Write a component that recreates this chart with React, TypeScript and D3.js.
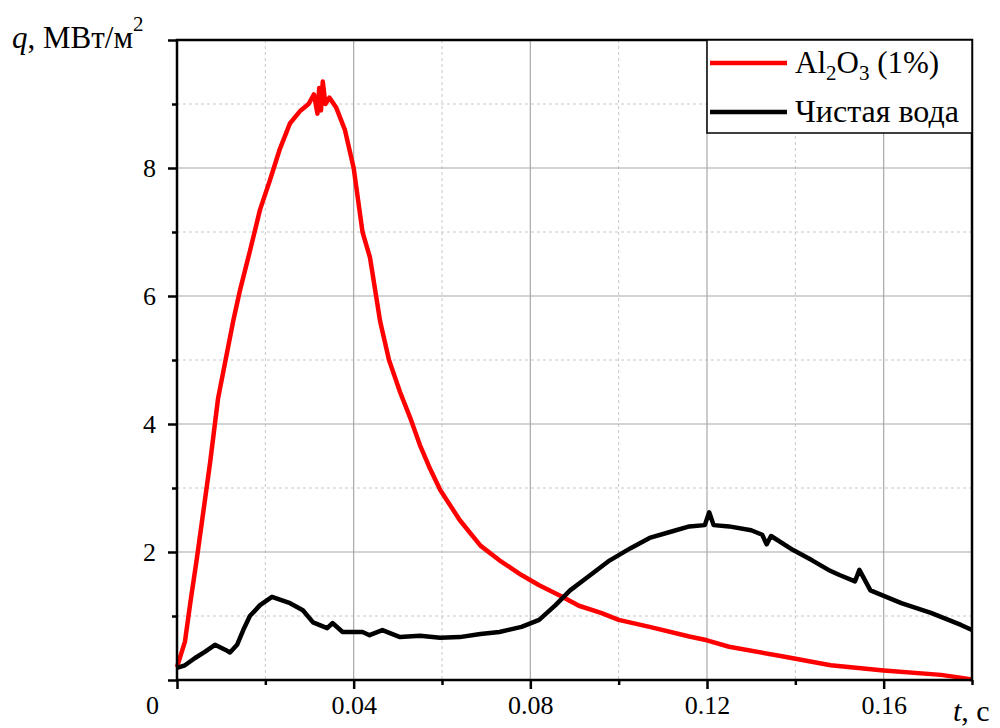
import React, { useEffect, useRef } from "react";
import * as d3 from "d3";

// Al2O3 (1%) series: time, s and heat flux, MW/m2
const aluminaT = [0, 0.0018, 0.003, 0.0045, 0.006, 0.0075, 0.0093, 0.011, 0.0127, 0.0143, 0.0165, 0.0188, 0.021, 0.0233, 0.0256, 0.028, 0.0298, 0.031, 0.0318, 0.0322, 0.0326, 0.033, 0.0336, 0.0345, 0.036, 0.038, 0.04, 0.042, 0.0437, 0.046, 0.048, 0.0505, 0.053, 0.055, 0.0573, 0.0596, 0.064, 0.0687, 0.073, 0.078, 0.082, 0.087, 0.091, 0.096, 0.1, 0.107, 0.116, 0.12, 0.125, 0.137, 0.148, 0.16, 0.173, 0.18];
const aluminaQ = [0.2, 0.6, 1.2, 1.9, 2.65, 3.4, 4.4, 5.0, 5.6, 6.1, 6.7, 7.35, 7.8, 8.3, 8.7, 8.9, 9.0, 9.15, 8.85, 9.25, 8.9, 9.35, 9.0, 9.1, 8.95, 8.6, 8.0, 7.0, 6.6, 5.6, 5.0, 4.5, 4.06, 3.67, 3.3, 2.97, 2.5, 2.1, 1.87, 1.64, 1.48, 1.31, 1.16, 1.05, 0.94, 0.83, 0.68, 0.62, 0.52, 0.37, 0.23, 0.15, 0.08, 0.01];

// pure water series
const waterT = [0, 0.0018, 0.004, 0.0063, 0.0086, 0.011, 0.012, 0.0136, 0.015, 0.0165, 0.0188, 0.0215, 0.0256, 0.0285, 0.0308, 0.034, 0.0352, 0.0375, 0.042, 0.0436, 0.0465, 0.0505, 0.055, 0.0596, 0.064, 0.0687, 0.073, 0.078, 0.082, 0.0857, 0.089, 0.0936, 0.098, 0.1027, 0.107, 0.112, 0.116, 0.1195, 0.1205, 0.1215, 0.125, 0.13, 0.1325, 0.1335, 0.1345, 0.1395, 0.1438, 0.1475, 0.150, 0.1535, 0.1545, 0.157, 0.164, 0.1707, 0.1775, 0.18];
const waterQ = [0.19, 0.23, 0.34, 0.44, 0.55, 0.47, 0.43, 0.55, 0.78, 1.0, 1.17, 1.3, 1.2, 1.09, 0.9, 0.81, 0.89, 0.75, 0.75, 0.7, 0.78, 0.67, 0.69, 0.66, 0.67, 0.72, 0.75, 0.83, 0.94, 1.17, 1.4, 1.64, 1.87, 2.06, 2.22, 2.32, 2.4, 2.42, 2.62, 2.42, 2.4, 2.34, 2.27, 2.12, 2.25, 2.03, 1.87, 1.72, 1.64, 1.54, 1.72, 1.4, 1.2, 1.05, 0.86, 0.78];

const xMajor = [0, 0.04, 0.08, 0.12, 0.16];
const xMinor = [0.02, 0.06, 0.1, 0.14, 0.18];
const yMajor = [0, 2, 4, 6, 8, 10];
const yMinor = [1, 3, 5, 7, 9];
const yLabels = [2, 4, 6, 8];

const serif = '"Liberation Serif", "Times New Roman", "DejaVu Serif", serif';

function App() {
  const ref = useRef<SVGSVGElement | null>(null);

  useEffect(() => {
    const svg = d3.select(ref.current);
    svg.selectAll("*").remove();

    const margin = { top: 40, right: 28, bottom: 48, left: 177 };
    const width = 1000;
    const height = 728;

    const x = d3.scaleLinear().domain([0, 0.18]).range([margin.left, width - margin.right]);
    const y = d3.scaleLinear().domain([0, 10]).range([height - margin.bottom, margin.top]);

    const x0 = x.range()[0], x1 = x.range()[1];
    const y0 = y.range()[0], y1 = y.range()[1];

    // grid
    const grid = svg.append("g");
    grid.selectAll(".vmin").data(xMinor).join("line")
      .attr("x1", (d) => x(d)).attr("x2", (d) => x(d))
      .attr("y1", y1).attr("y2", y0)
      .attr("stroke", "#c8c8c8").attr("stroke-dasharray", "3,3");
    grid.selectAll(".hmin").data(yMinor).join("line")
      .attr("x1", x0).attr("x2", x1)
      .attr("y1", (d) => y(d)).attr("y2", (d) => y(d))
      .attr("stroke", "#c8c8c8").attr("stroke-dasharray", "3,3");
    grid.selectAll(".vmaj").data(xMajor.slice(1)).join("line")
      .attr("x1", (d) => x(d)).attr("x2", (d) => x(d))
      .attr("y1", y1).attr("y2", y0)
      .attr("stroke", "#a8a8a8").attr("stroke-width", 1.2);
    grid.selectAll(".hmaj").data(yMajor.slice(1, -1)).join("line")
      .attr("x1", x0).attr("x2", x1)
      .attr("y1", (d) => y(d)).attr("y2", (d) => y(d))
      .attr("stroke", "#a8a8a8").attr("stroke-width", 1.2);

    // series
    const drawSeries = (ts: number[], qs: number[], color: string) => {
      const pts = ts.map((t, i) => [x(t), y(qs[i])] as [number, number]);
      svg.append("path")
        .attr("d", d3.line()(pts))
        .attr("fill", "none")
        .attr("stroke", color)
        .attr("stroke-width", 4.5)
        .attr("stroke-linejoin", "round");
    };
    drawSeries(aluminaT, aluminaQ, "#ff0000");
    drawSeries(waterT, waterQ, "#000000");

    // frame
    svg.append("rect")
      .attr("x", x0).attr("y", y1)
      .attr("width", x1 - x0).attr("height", y0 - y1)
      .attr("fill", "none").attr("stroke", "#000").attr("stroke-width", 2.5);

    // x axis
    const xAxis = svg.append("g").attr("transform", `translate(0,${y0})`);
    xAxis.call(
      d3.axisBottom(x).tickValues(xMajor).tickSize(9).tickFormat((d) => (+d === 0 ? "0" : d3.format(".2f")(+d)))
    );
    xAxis.append("g").call(d3.axisBottom(x).tickValues(xMinor).tickSize(5).tickFormat(() => ""));
    xAxis.selectAll(".domain").remove();
    xAxis.selectAll("line").attr("stroke", "#000").attr("stroke-width", 2.5);
    xAxis.selectAll("text")
      .style("font-family", serif).style("font-size", "26px").attr("fill", "#000")
      .attr("y", 16).attr("dy", "0.71em")
      .attr("dx", (d) => (+(d as number) === 0 ? -25 : 0));

    // y axis
    const yAxis = svg.append("g").attr("transform", `translate(${x0},0)`);
    yAxis.call(
      d3.axisLeft(y).tickValues(yMajor).tickSize(9)
        .tickFormat((d) => (yLabels.includes(+d) ? String(d) : ""))
    );
    yAxis.append("g").call(d3.axisLeft(y).tickValues(yMinor).tickSize(5).tickFormat(() => ""));
    yAxis.selectAll(".domain").remove();
    yAxis.selectAll("line").attr("stroke", "#000").attr("stroke-width", 2.5);
    yAxis.selectAll("text")
      .style("font-family", serif).style("font-size", "26px").attr("fill", "#000")
      .attr("x", -21);

    // axis titles
    const yTitle = svg.append("text")
      .attr("x", 12).attr("y", 48)
      .style("font-family", serif).style("font-size", "31px").attr("fill", "#000");
    yTitle.append("tspan").style("font-style", "italic").text("q");
    yTitle.append("tspan").text(", МВт/м");
    yTitle.append("tspan").style("font-size", "21px").attr("dy", -17).text("2");

    const xTitle = svg.append("text")
      .attr("x", 953).attr("y", 721)
      .style("font-family", serif).style("font-size", "30px").attr("fill", "#000");
    xTitle.append("tspan").style("font-style", "italic").text("t");
    xTitle.append("tspan").text(", с");

    // legend
    const legend = svg.append("g");
    legend.append("rect")
      .attr("x", 707).attr("y", y1)
      .attr("width", x1 - 707).attr("height", 93)
      .attr("fill", "#fff").attr("stroke", "#000").attr("stroke-width", 1.5);
    const items = [
      { color: "#ff0000", ly: 63 },
      { color: "#000000", ly: 112 },
    ];
    items.forEach((it) => {
      legend.append("line")
        .attr("x1", 710).attr("x2", 787)
        .attr("y1", it.ly).attr("y2", it.ly)
        .attr("stroke", it.color).attr("stroke-width", 4.5);
    });
    const t1 = legend.append("text")
      .attr("x", 795).attr("y", 73)
      .style("font-family", serif).style("font-size", "31px").attr("fill", "#000");
    t1.append("tspan").text("Al");
    t1.append("tspan").style("font-size", "21px").attr("dy", 7).text("2");
    t1.append("tspan").attr("dy", -7).text("O");
    t1.append("tspan").style("font-size", "21px").attr("dy", 7).text("3");
    t1.append("tspan").attr("dy", -7).text(" (1%)");
    legend.append("text")
      .attr("x", 795).attr("y", 122)
      .style("font-family", serif).style("font-size", "32px").attr("fill", "#000")
      .text("Чистая вода");
  }, []);

  return (
    <svg
      ref={ref}
      width={1000}
      height={728}
      style={{ position: "absolute", left: 0, top: 0, background: "#fff" }}
    />
  );
}

export default App;
